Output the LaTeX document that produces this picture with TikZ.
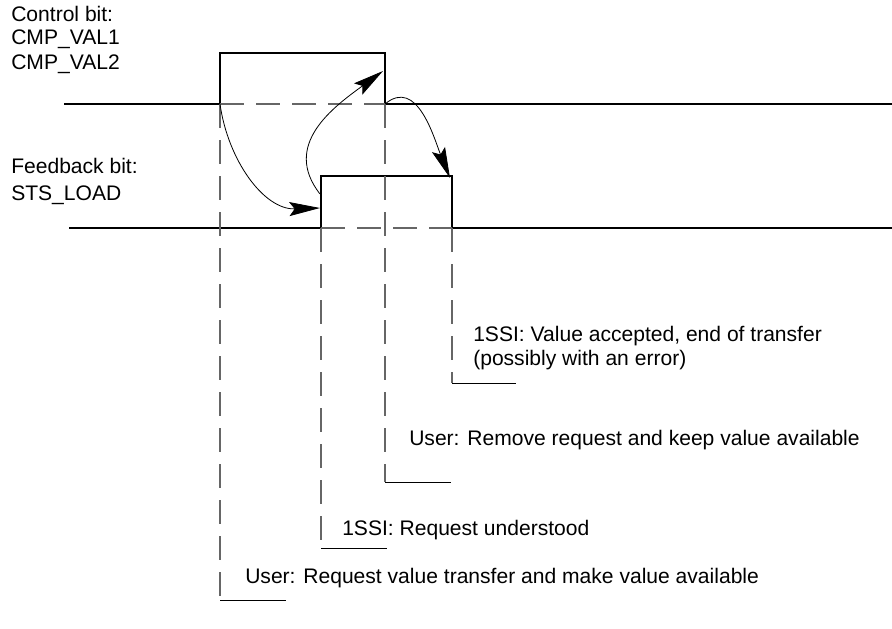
\documentclass[tikz,border=0pt]{standalone}
\usepackage{fontspec}
\setmainfont{Liberation Sans}
\usetikzlibrary{arrows.meta}

\begin{document}
\begin{tikzpicture}[x=0.75pt,y=-0.75pt,
    signal/.style={line width=1.5pt},
    guide/.style={black!60, line width=0.8pt, dash pattern=on 18pt off 9pt},
    flow/.style={line width=0.6pt, -{Stealth[length=23pt,width=10.5pt,inset=4pt]}},
    mark line/.style={line width=0.7pt},
    lbl/.style={anchor=west, inner sep=0pt, font=\fontsize{15.8}{18}\selectfont}]
      \useasboundingbox (0,0) rectangle (892,628);
      % signal labels
      \node[lbl] (ctrl)  at (11,14) {Control bit:};
      \node[lbl] (val1)  at (11,39) {CMP\_VAL1};
      \node[lbl] (val2)  at (11,64) {CMP\_VAL2};
      \node[lbl] (fb)    at (11,166) {Feedback bit:};
      \node[lbl] (sts)   at (11,195) {STS\_LOAD};
      % edges of the two signals
      \coordinate (c0) at (64,104);   \coordinate (cr) at (220,104);
      \coordinate (crh) at (220,53);  \coordinate (cfh) at (385,53);
      \coordinate (cf) at (385,104);  \coordinate (c1) at (892,104);
      \coordinate (s0) at (69,228);   \coordinate (sr) at (321,228);
      \coordinate (srh) at (321,176); \coordinate (sfh) at (452,176);
      \coordinate (sf) at (452,228);  \coordinate (s1) at (892,228);
      \draw[signal] (c0) -- (cr) -- (crh) -- (cfh) -- (cf) -- (c1);
      \draw[signal] (s0) -- (sr) -- (srh) -- (sfh) -- (sf) -- (s1);
      \draw[guide] (cr) -- (cf);
      \draw[guide] (sr) -- (sf);
      % guide lines down to the notes
      \coordinate (g1) at (220,600); \coordinate (h1) at (286,600);
      \coordinate (g2) at (321,548); \coordinate (h2) at (387,548);
      \coordinate (g3) at (385,482); \coordinate (h3) at (451,482);
      \coordinate (g4) at (452,383); \coordinate (h4) at (516,383);
      \draw[guide] (cr) -- (g1);
      \draw[guide] (sr) -- (g2);
      \draw[guide] (cf) -- (g3);
      \draw[guide] (sf) -- (g4);
      \draw[mark line] (g1) -- (h1);
      \draw[mark line] (g2) -- (h2);
      \draw[mark line] (g3) -- (h3);
      \draw[mark line] (g4) -- (h4);
      % notes
      \node[lbl] (n4a) at (473,336) {1SSI: Value accepted, end of transfer};
      \node[lbl] (n4b) at (473,360) {(possibly with an error)};
      \node[lbl] (n3)  at (409,440) {User: Remove request and keep value available};
      \node[lbl] (n2)  at (342,530) {1SSI: Request understood};
      \node[lbl] (n1)  at (245,578) {User: Request value transfer and make value available};
      % handshake arrows
      \coordinate (t2) at (383,71);
      \coordinate (t3) at (450,178);
      \coordinate (t1) at (320,208);
      \coordinate (f2) at (320,194);
      \draw[flow] (cr) to[out=-82, in=182] (t1);
      \draw[flow] (f2) to[out=128, in=216, looseness=1.15] (t2);
      \draw[flow] (cf) to[out=40, in=112, looseness=1.1] (t3);
\end{tikzpicture}
\end{document}
